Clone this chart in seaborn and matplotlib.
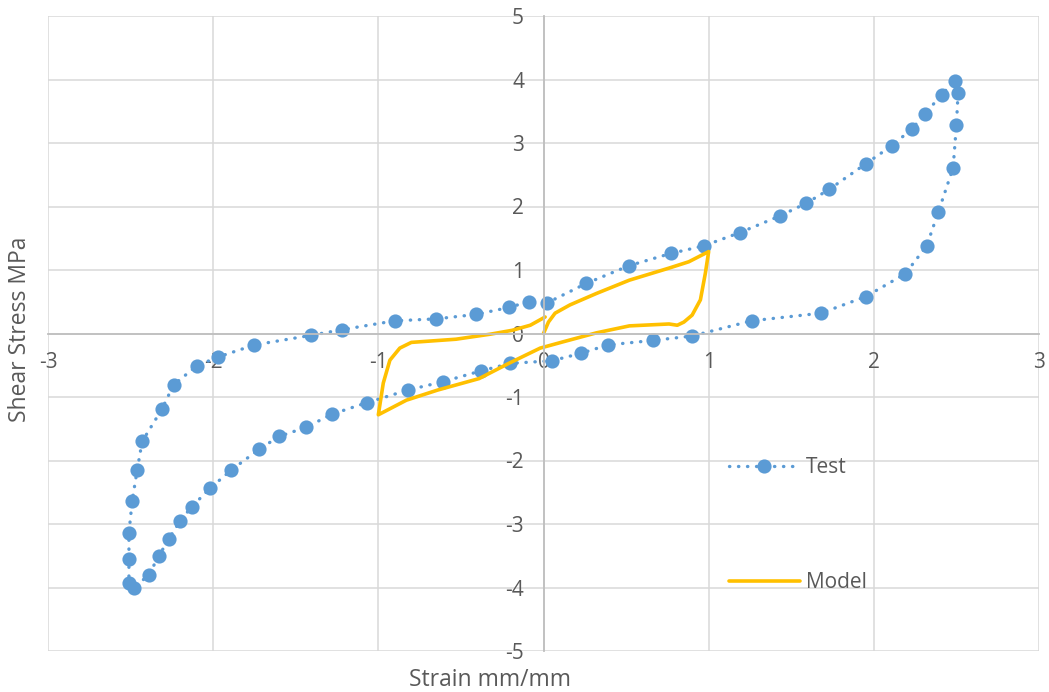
import numpy as np
import seaborn as sns
import matplotlib.pyplot as plt
import pandas as pd

# Test loop
test_strain = [0.02, 0.26, 0.52, 0.77, 0.97, 1.19, 1.43, 1.59, 1.73, 1.95, 2.11, 2.23, 2.31, 2.41, 2.49,
               2.51, 2.50, 2.48, 2.39, 2.32, 2.19, 1.95, 1.68, 1.26, 0.90, 0.66, 0.39, 0.23, 0.05,
               -0.20, -0.38, -0.61, -0.82, -1.07, -1.28, -1.44, -1.60, -1.72, -1.89, -2.02, -2.13,
               -2.20, -2.27, -2.33, -2.39, -2.48, -2.51, -2.51, -2.51, -2.49, -2.46, -2.43, -2.31,
               -2.24, -2.10, -1.97, -1.75, -1.41, -1.22, -0.90, -0.65, -0.41, -0.21, -0.09]
test_stress = [0.48, 0.79, 1.07, 1.26, 1.38, 1.59, 1.85, 2.05, 2.27, 2.67, 2.96, 3.22, 3.46, 3.76, 3.98,
               3.79, 3.28, 2.61, 1.91, 1.38, 0.94, 0.58, 0.32, 0.20, -0.04, -0.11, -0.18, -0.31, -0.43,
               -0.47, -0.59, -0.76, -0.89, -1.09, -1.27, -1.48, -1.62, -1.82, -2.15, -2.44, -2.73,
               -2.95, -3.24, -3.51, -3.80, -4.01, -3.93, -3.55, -3.14, -2.63, -2.15, -1.70, -1.19,
               -0.81, -0.51, -0.37, -0.18, -0.03, 0.06, 0.20, 0.23, 0.30, 0.41, 0.50]

# Model loop
model_strain = [0.00, 0.03, 0.07, 0.16, 0.32, 0.52, 0.76, 0.88, 1.00,
                0.98, 0.95, 0.90, 0.85, 0.81, 0.76, 0.52, 0.32, 0.12, -0.02,
                -0.21, -0.39, -0.64, -0.83, -1.00,
                -0.97, -0.93, -0.87, -0.80, -0.53, -0.32, -0.19, -0.08, 0.01]
model_stress = [0.00, 0.18, 0.32, 0.45, 0.63, 0.84, 1.03, 1.13, 1.29,
                0.95, 0.53, 0.29, 0.18, 0.13, 0.15, 0.12, 0.01, -0.13, -0.23,
                -0.47, -0.71, -0.89, -1.05, -1.28,
                -0.78, -0.42, -0.23, -0.14, -0.09, -0.01, 0.05, 0.13, 0.26]

test_df = pd.DataFrame({'strain': test_strain, 'stress': test_stress})
model_df = pd.DataFrame({'strain': model_strain, 'stress': model_stress})

sns.set_style('white')
plt.rcParams['font.family'] = ['Open Sans', 'DejaVu Sans']
plt.rcParams['axes.unicode_minus'] = False

fig = plt.figure(figsize=(10.49, 6.92), dpi=100)
ax = fig.add_axes([48 / 1049, 1 - 651 / 692, 991 / 1049, 635 / 692])

sns.lineplot(data=test_df, x='strain', y='stress', sort=False, estimator=None, ax=ax,
             color='#5B9BD5', linewidth=2.4, linestyle=(0, (0.1, 2.6)), dash_capstyle='round',
             marker='o', markersize=9, markeredgecolor='#5B9BD5', markeredgewidth=1.2, label='Test')
sns.lineplot(data=model_df, x='strain', y='stress', sort=False, estimator=None, ax=ax,
             color='#FFC000', linewidth=2.6, label='Model')

ax.set_xlim(-3, 3)
ax.set_ylim(-5, 5)
ax.set_xticks(np.arange(-3, 4, 1))
ax.set_yticks(np.arange(-5, 6, 1))
ax.grid(True, color='#D9D9D9', linewidth=1.1)
ax.set_axisbelow(True)

for side in ['top', 'right']:
    ax.spines[side].set_visible(False)
ax.spines['left'].set_position(('data', 0))
ax.spines['bottom'].set_position(('data', 0))
ax.spines['left'].set_color('#BFBFBF')
ax.spines['bottom'].set_color('#BFBFBF')
ax.spines['left'].set_linewidth(1.3)
ax.spines['bottom'].set_linewidth(1.3)
ax.tick_params(axis='both', length=0, labelsize=15, labelcolor='#595959')
ax.tick_params(axis='x', pad=13)
ax.tick_params(axis='y', pad=14)

ax.set_xlabel('Strain mm/mm', fontsize=16.5, color='#595959')
ax.set_ylabel('Shear Stress MPa', fontsize=16.5, color='#595959')
ax.xaxis.set_label_coords(0.446, -0.027)
ax.yaxis.set_label_coords(-0.016, 0.507)

ax.legend(loc='center left', bbox_to_anchor=(0.687, 0.198), frameon=False, fontsize=15,
          handlelength=3.4, handletextpad=0.3, labelspacing=4.5, borderpad=0, borderaxespad=0,
          labelcolor='#595959')

fig.savefig('out.png', dpi=100)
